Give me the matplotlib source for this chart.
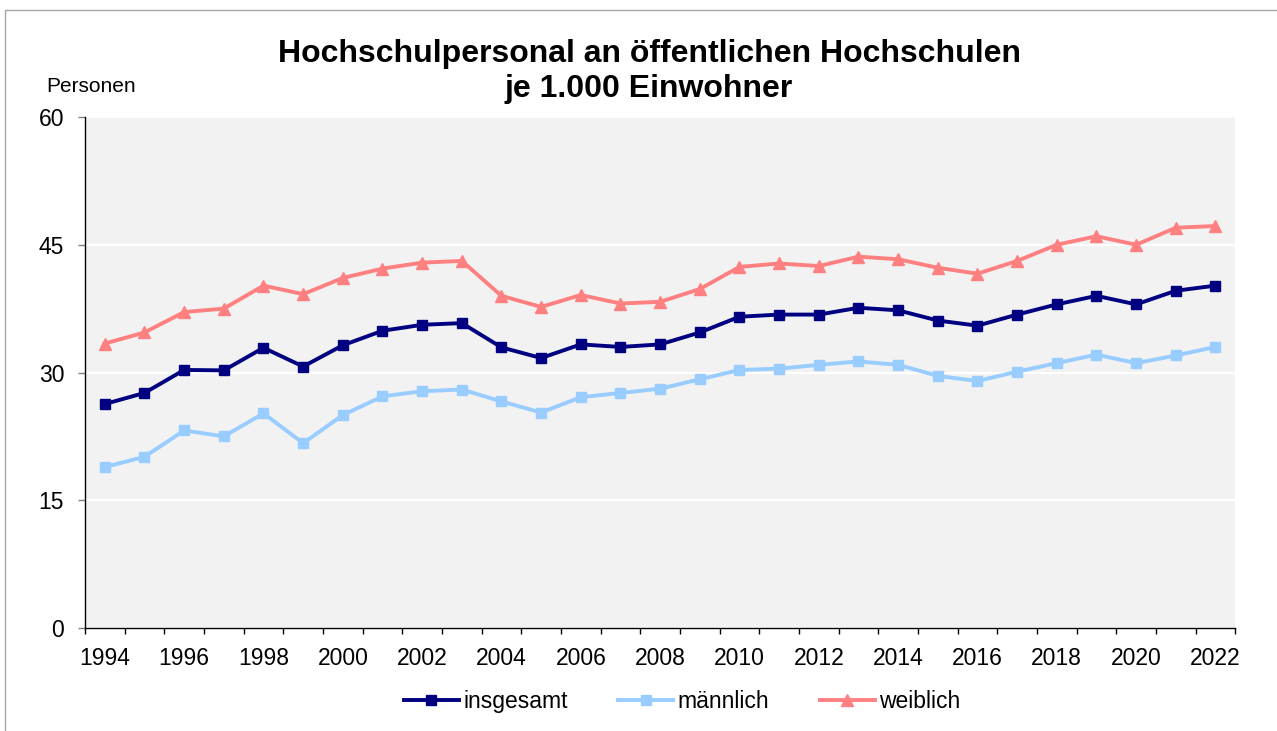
import matplotlib
matplotlib.use("Agg")
import matplotlib.pyplot as plt
from matplotlib.patches import Rectangle
from matplotlib.ticker import FixedLocator

plt.rcParams['font.family'] = ['Liberation Sans', 'DejaVu Sans']

years = [1994, 1995, 1996, 1997, 1998, 1999, 2000, 2001, 2002, 2003,
         2004, 2005, 2006, 2007, 2008, 2009, 2010, 2011, 2012, 2013,
         2014, 2015, 2016, 2017, 2018, 2019, 2020, 2021, 2022]
insgesamt = [26.3, 27.6, 30.3, 30.25, 32.9, 30.7, 33.2, 34.9, 35.6, 35.8,
             32.95, 31.7, 33.3, 33.0, 33.3, 34.7, 36.55, 36.8, 36.8, 37.6,
             37.3, 36.1, 35.5, 36.8, 38.0, 39.0, 38.0, 39.6, 40.2]
maennlich = [18.9, 20.1, 23.2, 22.5, 25.2, 21.7, 25.0, 27.2, 27.8, 28.0,
             26.6, 25.3, 27.1, 27.6, 28.1, 29.2, 30.3, 30.45, 30.9, 31.3,
             30.9, 29.6, 29.0, 30.1, 31.1, 32.1, 31.1, 32.0, 33.0]
weiblich = [33.4, 34.7, 37.1, 37.5, 40.2, 39.2, 41.1, 42.2, 42.9, 43.1,
            39.0, 37.7, 39.1, 38.1, 38.3, 39.8, 42.4, 42.8, 42.5, 43.6,
            43.3, 42.3, 41.6, 43.1, 45.0, 46.0, 45.0, 47.0, 47.2]
xtick_labels = ["1994", "1996", "1998", "2000", "2002", "2004", "2006", "2008",
                "2010", "2012", "2014", "2016", "2018", "2020", "2022"]
yticks = [0, 15, 30, 45, 60]

W, H = 1277, 731
fig = plt.figure(figsize=(W / 100, H / 100), dpi=100)
fig.patch.set_facecolor('white')

# outer border (left and top visible)
fig.patches.append(Rectangle((4.5 / W, -0.1), 2.0, 1 - 9.5 / H + 0.1,
                             transform=fig.transFigure, fill=False,
                             edgecolor='#A6A6A6', lw=1.0))

ax = fig.add_axes([85 / W, 1 - 628 / H, (1235.3 - 85) / W, (628 - 117) / H])
ax.set_facecolor('#F2F2F2')

x = list(range(len(years)))
ax.plot(x, insgesamt, color='#000080', lw=2.8, marker='s', ms=7,
        label='insgesamt', zorder=4)
ax.plot(x, maennlich, color='#99CCFF', lw=2.8, marker='s', ms=7,
        label='männlich', zorder=3)
ax.plot(x, weiblich, color='#FF8080', lw=2.8, marker='^', ms=8,
        label='weiblich', zorder=3)

ax.set_xlim(-0.5, len(years) - 0.5)
ax.set_ylim(0, 60)

# x axis: labels at category centers, tick marks at category boundaries
label_pos = [years.index(int(t)) for t in xtick_labels]
ax.set_xticks(label_pos)
ax.set_xticklabels(xtick_labels)
ax.xaxis.set_minor_locator(FixedLocator([i - 0.5 for i in range(len(years) + 1)]))
ax.tick_params(axis='x', which='major', length=0, pad=14, labelsize=16.5)
ax.tick_params(axis='x', which='minor', length=4.5, width=1, color='black',
               direction='out')

ax.set_yticks(yticks)
ax.set_yticklabels([str(v) for v in yticks])
ax.tick_params(axis='y', length=5, width=1, color='#808080', pad=10,
               labelsize=16.5)

ax.grid(axis='y', color='white', lw=1.5)
ax.set_axisbelow(True)
for s in ['top', 'right']:
    ax.spines[s].set_visible(False)
ax.spines['left'].set_color('black')
ax.spines['bottom'].set_color('black')
ax.spines['left'].set_linewidth(1.0)
ax.spines['bottom'].set_linewidth(1.0)

fig.text(649 / W, 1 - 61.7 / H, 'Hochschulpersonal an öffentlichen Hochschulen',
         ha='center', va='baseline', fontsize=23, fontweight='bold')
fig.text(649 / W, 1 - 97 / H, 'je 1.000 Einwohner',
         ha='center', va='baseline', fontsize=23, fontweight='bold')
fig.text(46 / W, 1 - 91.5 / H, 'Personen', ha='left', va='baseline',
         fontsize=15)

fig.legend(loc='center', bbox_to_anchor=(682 / W, 1 - 701.7 / H),
           ncol=3, frameon=False, fontsize=16.5, handlelength=2.4,
           handletextpad=0.2, columnspacing=2.2)

fig.savefig('out.png', dpi=100, facecolor='white')
